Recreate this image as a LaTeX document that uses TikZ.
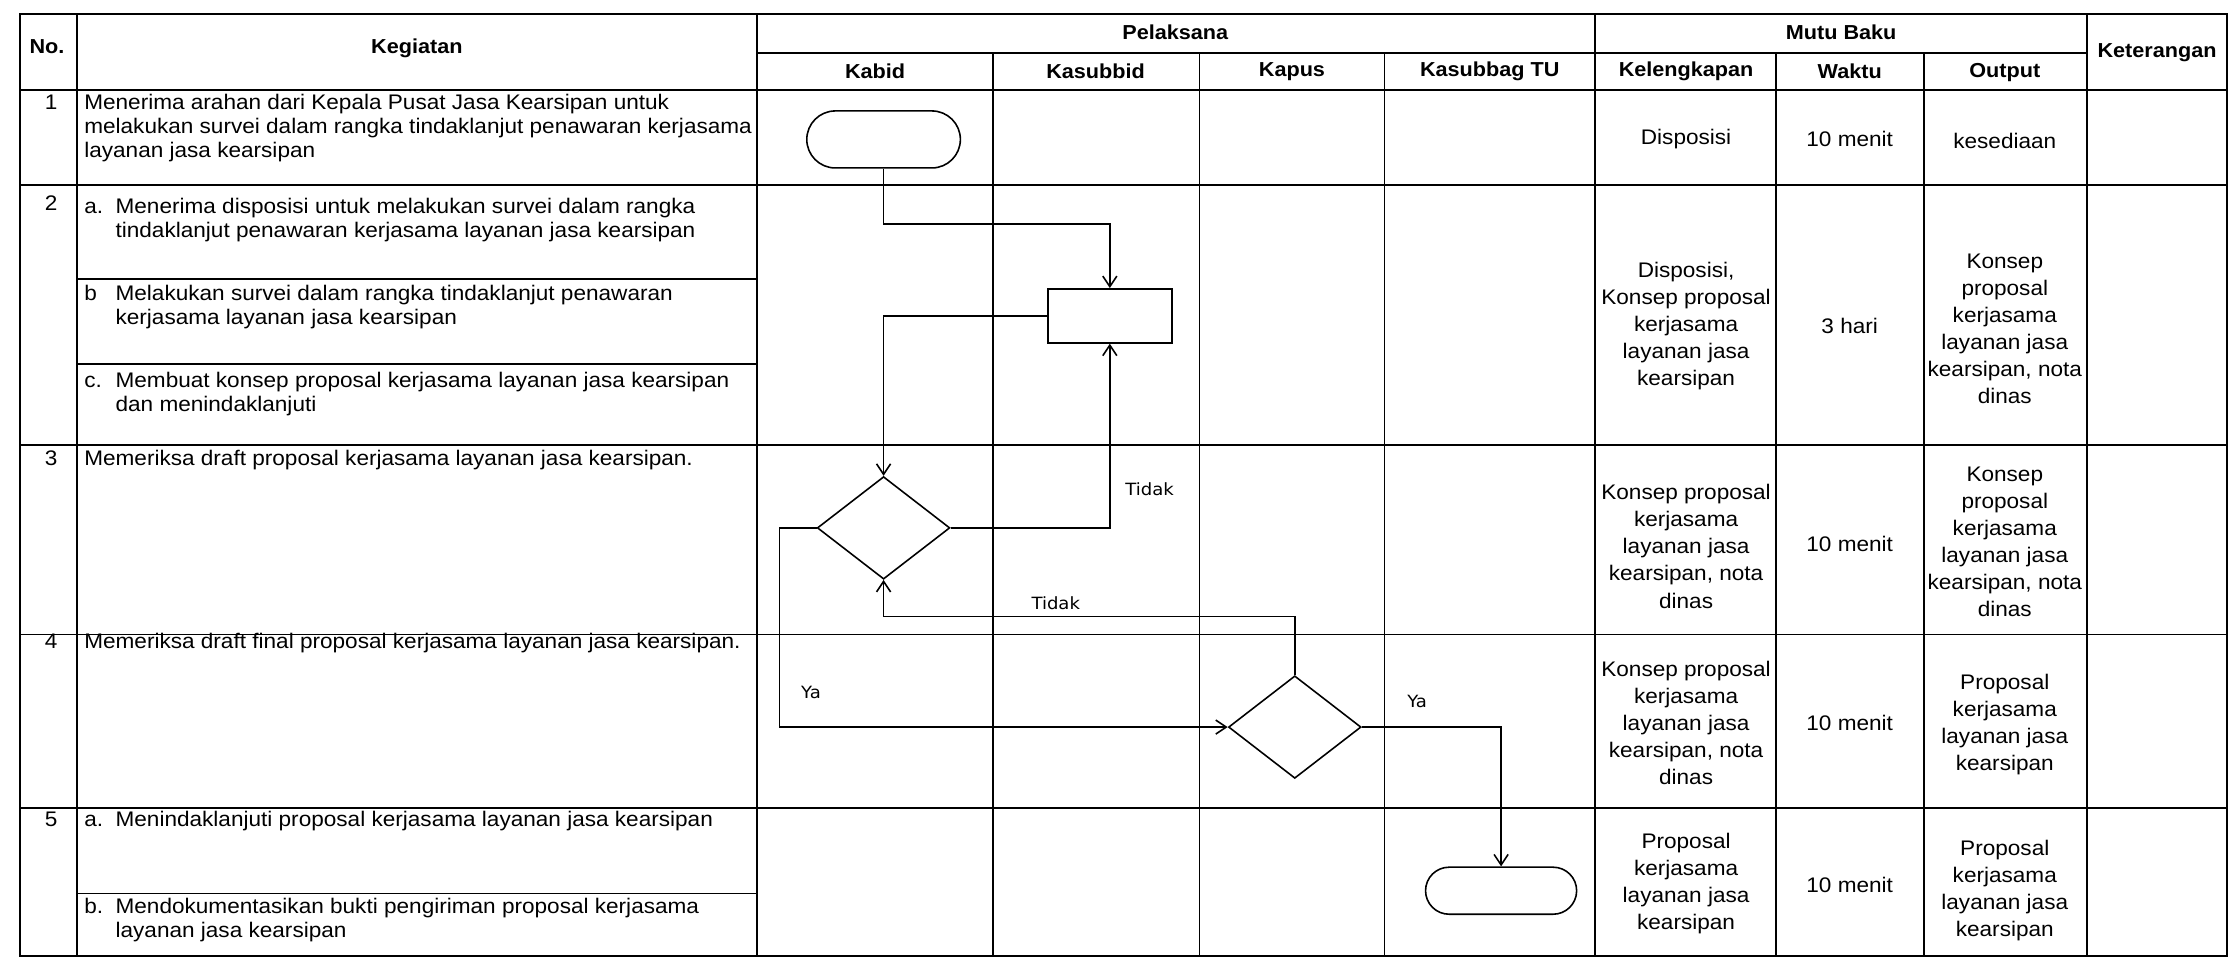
\documentclass[tikz,border=0pt]{standalone}
\usepackage{fontspec}
\setmainfont{Liberation Sans}[FakeStretch=1.07]
\newfontfamily\flowfont{DejaVu Sans}[FakeStretch=1.07]
\usetikzlibrary{arrows.meta,positioning,shapes.geometric,shapes.misc}

\tikzset{
  tabline/.style={line width=1pt},
  head/.style={font=\fontsize{11.5}{13}\selectfont\bfseries, inner sep=0pt},
  act/.style={anchor=base west, align=left, inner sep=0pt, font=\fontsize{12}{13.7}\selectfont},
  num/.style={anchor=base, inner sep=0pt, font=\fontsize{12}{13.7}\selectfont},
  mutu/.style={align=center, inner sep=0pt, font=\fontsize{12}{15.4}\selectfont},
  term/.style={draw, rounded rectangle, line width=0.9pt, inner sep=0pt},
  proc/.style={draw, rectangle, line width=0.9pt, inner sep=0pt,
    minimum width=2.48cm, minimum height=1.08cm},
  dec/.style={draw, diamond, line width=0.9pt, inner sep=0pt,
    minimum width=2.65cm, minimum height=2.05cm},
  flow/.style={line width=0.9pt, -{Straight Barb[length=6pt,width=8pt]}},
  lbl/.style={font=\flowfont\fontsize{9.6}{11}\selectfont, inner sep=0pt},
}

\begin{document}
\begin{tikzpicture}[x=0.02845cm, y=-0.02845cm]
  \useasboundingbox (0,0) rectangle (1568,676);

  % table grid
  \draw[tabline] (14,10) rectangle (1565,672);
  \foreach \y in {63,130,313,446,568}
    \draw[tabline] (14,\y) -- (1565,\y);
  \draw[tabline] (532,37) -- (1467,37);
  \foreach \y in {196,256,628}
    \draw[tabline] (54,\y) -- (532,\y);
  \foreach \x in {54,532,1121,1467}
    \draw[tabline] (\x,10) -- (\x,672);
  \foreach \x in {698,843,973,1248,1352}
    \draw[tabline] (\x,37) -- (\x,672);

  % headers
  \node[head] (hno) at (33,33) {No.};
  \node[head] (hkeg) at (293,34) {Kegiatan};
  \node[head] (hpel) at (826,23) {Pelaksana};
  \node[head] (hmutu) at (1294,23) {Mutu Baku};
  \node[head] (hket) at (1516,37) {Keterangan};
  \node[head] (hkabid) at (615,50) {Kabid};
  \node[head] (hkasubbid) at (770,50) {Kasubbid};
  \node[head] (hkapus) at (908,50) {Kapus};
  \node[head] (hkasubbag) at (1047,50) {Kasubbag TU};
  \node[head] (hkel) at (1185,50) {Kelengkapan};
  \node[head] (hwaktu) at (1300,50) {Waktu};
  \node[head] (houtput) at (1409,51) {Output};

  % numbers
  \node[num] (n1) at (36,77) {1};
  \node[num] (n2) at (36,148) {2};
  \node[num] (n3) at (36,327) {3};
  \node[num] (n4) at (36,456) {4};
  \node[num] (n5) at (36,581) {5};

  % kegiatan (base = last line)
  \node[act] (k1) at (59,111) {Menerima arahan dari Kepala Pusat Jasa Kearsipan untuk\\melakukan survei dalam rangka tindaklanjut penawaran kerjasama\\layanan jasa kearsipan};
  \node[act] (k2al) at (59,150) {a.};
  \node[act] (k2a) at (81,167) {Menerima disposisi untuk melakukan survei dalam rangka\\tindaklanjut penawaran kerjasama layanan jasa kearsipan};
  \node[act] (k2bl) at (59,211) {b};
  \node[act] (k2b) at (81,228) {Melakukan survei dalam rangka tindaklanjut penawaran\\kerjasama layanan jasa kearsipan};
  \node[act] (k2cl) at (59,272) {c.};
  \node[act] (k2c) at (81,289) {Membuat konsep proposal kerjasama layanan jasa kearsipan\\dan menindaklanjuti};
  \node[act] (k3) at (59,327) {Memeriksa draft proposal kerjasama layanan jasa kearsipan.};
  \node[act] (k4) at (59,456) {Memeriksa draft final proposal kerjasama layanan jasa kearsipan.};
  \node[act] (k5al) at (59,581) {a.};
  \node[act] (k5a) at (81,581) {Menindaklanjuti proposal kerjasama layanan jasa kearsipan};
  \node[act] (k5bl) at (59,642) {b.};
  \node[act] (k5b) at (81,659) {Mendokumentasikan bukti pengiriman proposal kerjasama\\layanan jasa kearsipan};

  % mutu baku
  \node[mutu] (kel1) at (1185,98) {Disposisi};
  \node[mutu] (wak1) at (1300,98) {10 menit};
  \node[mutu] (out1) at (1409,99) {kesediaan};
  \node[mutu] (kel2) at (1185,229) {Disposisi,\\Konsep proposal\\kerjasama\\layanan jasa\\kearsipan};
  \node[mutu] (wak2) at (1300,229) {3 hari};
  \node[mutu] (out2) at (1409,231) {Konsep\\proposal\\kerjasama\\layanan jasa\\kearsipan, nota\\dinas};
  \node[mutu] (kel3) at (1185,384) {Konsep proposal\\kerjasama\\layanan jasa\\kearsipan, nota\\dinas};
  \node[mutu] (wak3) at (1300,382) {10 menit};
  \node[mutu] (out3) at (1409,381) {Konsep\\proposal\\kerjasama\\layanan jasa\\kearsipan, nota\\dinas};
  \node[mutu] (kel4) at (1185,508) {Konsep proposal\\kerjasama\\layanan jasa\\kearsipan, nota\\dinas};
  \node[mutu] (wak4) at (1300,508) {10 menit};
  \node[mutu] (out4) at (1409,509) {Proposal\\kerjasama\\layanan jasa\\kearsipan};
  \node[mutu] (kel5) at (1185,621) {Proposal\\kerjasama\\layanan jasa\\kearsipan};
  \node[mutu] (wak5) at (1300,622) {10 menit};
  \node[mutu] (out5) at (1409,626) {Proposal\\kerjasama\\layanan jasa\\kearsipan};

  % flowchart
  \node[term, minimum width=3.07cm, minimum height=1.14cm] (start) at (621,98) {};
  \node[proc] (buat) at (780,222) {};
  \node[dec] (cek1) at (621,371) {};
  \node[dec] (cek2) at (910,511) {};
  \node[term, minimum width=3.02cm, minimum height=0.94cm] (stop) at (1055,626) {};

  \draw[flow] (start.south) -- ++(0,39) -| (buat.north);
  \draw[flow] (buat.west) -| (cek1.north);
  \draw[flow] (cek1.east) -| (buat.south);
  \draw[flow] (cek1.west) -- ++(-26,0) |- (cek2.west);
  \draw[flow] (cek2.north) -- ++(0,-41) -| (cek1.south);
  \draw[flow] (cek2.east) -| (stop.north);

  \node[lbl] (tidak1) at (808,344) {Tidak};
  \node[lbl] (tidak2) at (742,424) {Tidak};
  \node[lbl] (ya1) at (570,487) {Ya};
  \node[lbl] (ya2) at (996,493) {Ya};
\end{tikzpicture}
\end{document}
